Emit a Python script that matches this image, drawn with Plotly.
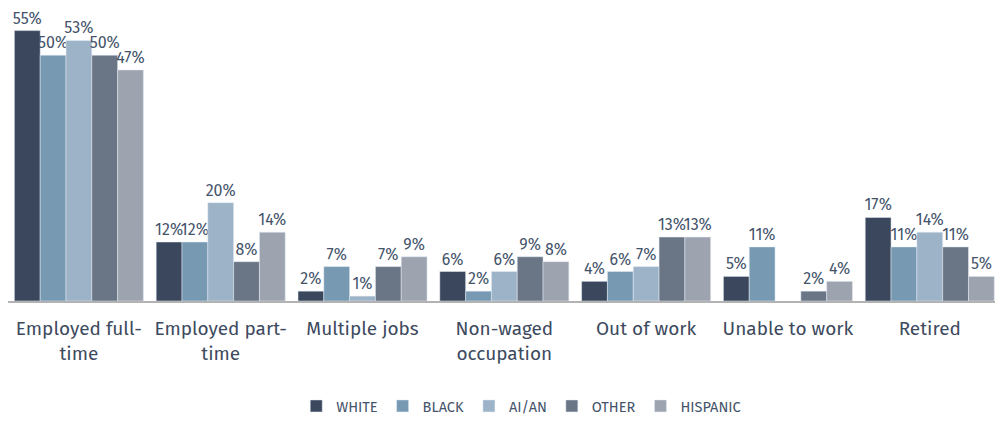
"""Employment status by race/ethnicity, grouped bar chart."""

import plotly.graph_objects as go

categories = [
    "Employed full-<br>time",
    "Employed part-<br>time",
    "Multiple jobs",
    "Non-waged<br>occupation",
    "Out of work",
    "Unable to work",
    "Retired",
]

white = [55, 12, 2, 6, 4, 5, 17]
black = [50, 12, 7, 2, 6, 11, 11]
aian = [53, 20, 1, 6, 7, None, 14]
other = [50, 8, 7, 9, 13, 2, 11]
hispanic = [47, 14, 9, 8, 13, 4, 5]

series = [
    ("WHITE", white, "#3b475d"),
    ("BLACK", black, "#7799b2"),
    ("AI/AN", aian, "#9db3c7"),
    ("OTHER", other, "#6a7686"),
    ("HISPANIC", hispanic, "#9ea4af"),
]

fig = go.Figure()
for name, values, color in series:
    fig.add_trace(
        go.Bar(
            x=categories,
            y=values,
            name=name,
            marker_color=color,
            texttemplate="%{y}%",
            textposition="outside",
            constraintext="none",
            cliponaxis=False,
            textfont=dict(size=16, color="#44536a"),
        )
    )

fig.update_layout(
    width=995,
    height=422,
    barmode="group",
    bargap=0.09,
    bargroupgap=0,
    plot_bgcolor="white",
    paper_bgcolor="white",
    margin=dict(l=8, r=0, t=8, b=119),
    font=dict(family="Fira Sans, Noto Sans, sans-serif", color="#3d4a5e"),
    legend=dict(
        orientation="h",
        x=0.52,
        xanchor="center",
        y=-0.36,
        yanchor="middle",
        font=dict(size=14.5, color="#44536a"),
        itemwidth=30,
        traceorder="normal",
    ),
)
fig.update_xaxes(
    showline=True,
    linecolor="#b3b3b3",
    linewidth=2,
    tickfont=dict(size=19, color="#3d4a5e"),
    ticklabelstandoff=9,
    range=[-0.5, 6.46],
    ticks="",
)
fig.update_yaxes(
    range=[0, 59.6],
    showgrid=False,
    showticklabels=False,
    zeroline=False,
)

# drop the default body margin so the 995x422 figure fills the window
fig.write_html(
    "out.html",
    config={"displayModeBar": False},
    post_script="document.body.style.margin='0';document.body.style.overflow='hidden';",
)
